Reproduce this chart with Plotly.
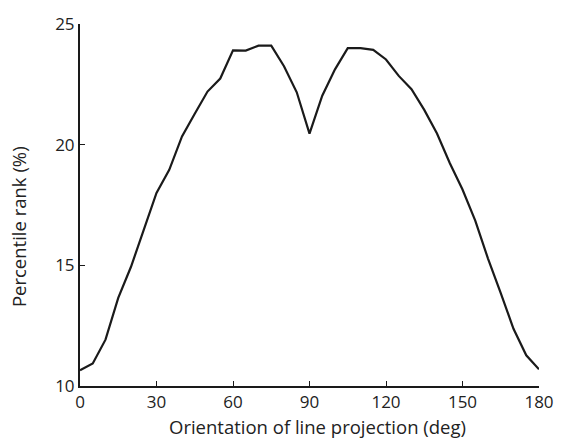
import plotly.graph_objects as go

# Orientation sampled every 5 degrees
orientation_deg = list(range(0, 181, 5))
percentile_rank = [
    10.65, 10.93, 11.92, 13.65, 14.94, 16.50, 18.00, 18.96, 20.34, 21.28,
    22.20, 22.74, 23.91, 23.90, 24.10, 24.10, 23.25, 22.17, 20.46, 22.03,
    23.12, 24.00, 24.00, 23.93, 23.53, 22.85, 22.30, 21.44, 20.46, 19.24,
    18.14, 16.85, 15.28, 13.85, 12.37, 11.27, 10.69,
]

x_ticks = [0, 30, 60, 90, 120, 150, 180]
y_ticks = [10, 15, 20, 25]

x_title = "Orientation of line projection (deg)"
y_title = "Percentile rank (%)"

font_family = "Open Sans, Noto Sans, sans-serif"
ink = "#1a1a1a"
text_color = "#222"

fig = go.Figure(
    go.Scatter(
        x=orientation_deg,
        y=percentile_rank,
        mode="lines",
        line=dict(color=ink, width=2.2),
        hoverinfo="skip",
    )
)

axis_common = dict(
    showgrid=False,
    zeroline=False,
    showline=True,
    linecolor=ink,
    linewidth=2,
    ticks="inside",
    ticklen=5,
    tickwidth=1,
    tickcolor=ink,
    tickfont=dict(family=font_family, size=17, color=text_color),
)

fig.update_xaxes(range=[0, 180], tickvals=x_ticks, **axis_common)
fig.update_yaxes(range=[10, 25], tickvals=y_ticks, **axis_common)

# Axis titles placed as annotations relative to the plotting area
fig.add_annotation(
    text=x_title, xref="paper", yref="paper",
    x=0.518, y=-0.112, xanchor="center", yanchor="middle",
    showarrow=False, font=dict(family=font_family, size=18.5, color=text_color),
)
fig.add_annotation(
    text=y_title, xref="paper", yref="paper",
    x=-0.135, y=0.439, xanchor="center", yanchor="middle", textangle=-90,
    showarrow=False, font=dict(family=font_family, size=18.5, color=text_color),
)

fig.update_layout(
    width=566,
    height=440,
    margin=dict(l=80, r=19, t=19, b=54),
    paper_bgcolor="white",
    plot_bgcolor="white",
    showlegend=False,
)

fig.write_html("out.html")
